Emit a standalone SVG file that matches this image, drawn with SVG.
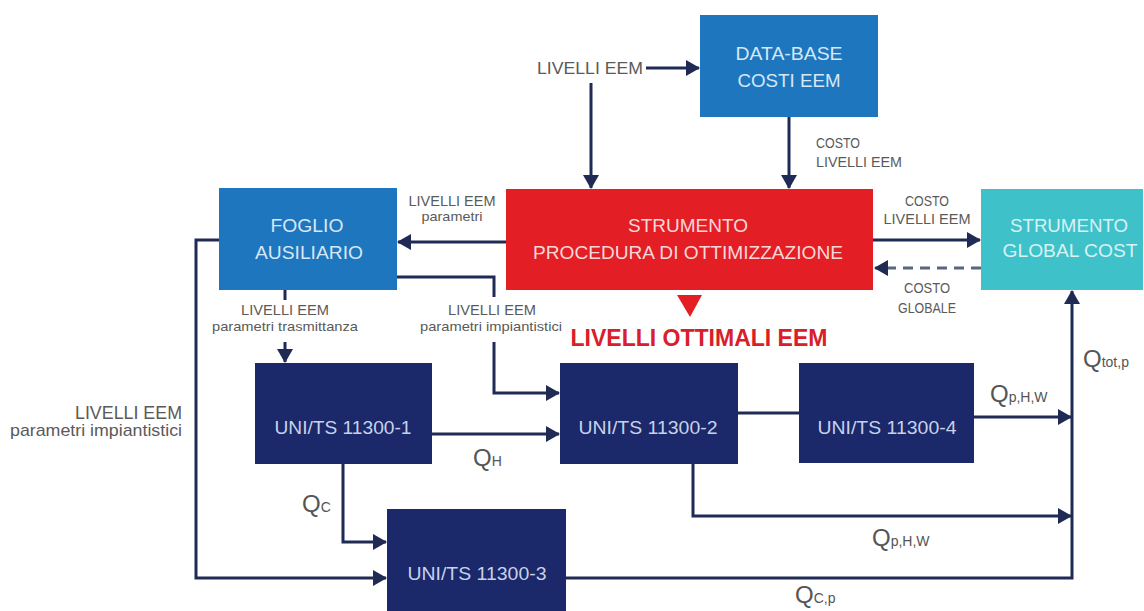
<svg xmlns="http://www.w3.org/2000/svg" width="1144" height="611" viewBox="0 0 1144 611">
<defs>
<style>
.ln{fill:none;stroke:#1f2a55;stroke-width:3}
.dash{fill:none;stroke:#5a6580;stroke-width:3;stroke-dasharray:10 7}
.lbl{font-family:"Liberation Sans",Arial,sans-serif;fill:#5a5a5a;text-anchor:middle}
.btx{font-family:"Liberation Sans",Arial,sans-serif;text-anchor:middle;font-size:19px}
.q{font-family:"Liberation Sans",Arial,sans-serif;fill:#555;font-size:24px}
.qs{font-size:14px}
</style>
<marker id="ah" markerUnits="userSpaceOnUse" viewBox="0 0 14 16" markerWidth="14" markerHeight="16" refX="13" refY="8" orient="auto">
<path d="M0,0 L14,8 L0,16 z" fill="#1f2a55"/>
</marker>
<marker id="ahd" markerUnits="userSpaceOnUse" viewBox="0 0 14 16" markerWidth="14" markerHeight="16" refX="13" refY="8" orient="auto">
<path d="M0,0 L14,8 L0,16 z" fill="#1f2a55"/>
</marker>
</defs>
<rect width="1144" height="611" fill="#ffffff"/>

<g id="connectors">
<path class="ln" d="M646,68 H699" marker-end="url(#ah)"/>
<path class="ln" d="M591,83 V188" marker-end="url(#ah)"/>
<path class="ln" d="M789,117 V188" marker-end="url(#ah)"/>
<path class="ln" d="M506,242 H398" marker-end="url(#ah)"/>
<path class="ln" d="M873,240 H980" marker-end="url(#ah)"/>
<path class="dash" d="M981,268 H875" marker-end="url(#ahd)"/>
<path class="ln" d="M397,277 H494 V297"/>
<path class="ln" d="M494,342 V393 H559" marker-end="url(#ah)"/>
<path class="ln" d="M285,290 V300"/>
<path class="ln" d="M285,342 V362" marker-end="url(#ah)"/>
<path class="ln" d="M219,240 H196 V578 H386" marker-end="url(#ah)"/>
<path class="ln" d="M432,434 H559" marker-end="url(#ah)"/>
<path class="ln" d="M343,464 V542 H386" marker-end="url(#ah)"/>
<path class="ln" d="M738,413 H799"/>
<path class="ln" d="M974,417 H1071" marker-end="url(#ah)"/>
<path class="ln" d="M693,464 V516 H1071" marker-end="url(#ah)"/>
<path class="ln" d="M566,578 H1072 V291" marker-end="url(#ah)"/>
</g>

<g id="labels">
<text class="lbl" x="590" y="74" font-size="17" textLength="106" lengthAdjust="spacingAndGlyphs">LIVELLI EEM</text>
<text class="lbl" x="816" y="148" font-size="14" style="text-anchor:start" textLength="44" lengthAdjust="spacingAndGlyphs">COSTO</text>
<text class="lbl" x="816" y="167" font-size="14" style="text-anchor:start" textLength="86" lengthAdjust="spacingAndGlyphs">LIVELLI EEM</text>
<text class="lbl" x="452" y="206" font-size="14" textLength="87" lengthAdjust="spacingAndGlyphs">LIVELLI EEM</text>
<text class="lbl" x="452" y="221" font-size="13" textLength="61" lengthAdjust="spacingAndGlyphs">parametri</text>
<text class="lbl" x="927" y="206" font-size="14" textLength="44" lengthAdjust="spacingAndGlyphs">COSTO</text>
<text class="lbl" x="927" y="224" font-size="14" textLength="87" lengthAdjust="spacingAndGlyphs">LIVELLI EEM</text>
<text class="lbl" x="927" y="293" font-size="14" textLength="46" lengthAdjust="spacingAndGlyphs">COSTO</text>
<text class="lbl" x="927" y="313" font-size="14" textLength="58" lengthAdjust="spacingAndGlyphs">GLOBALE</text>
<text class="lbl" x="285" y="315" font-size="14" textLength="88" lengthAdjust="spacingAndGlyphs">LIVELLI EEM</text>
<text class="lbl" x="285" y="331" font-size="13" textLength="146" lengthAdjust="spacingAndGlyphs">parametri trasmittanza</text>
<text class="lbl" x="492" y="315" font-size="14" textLength="88" lengthAdjust="spacingAndGlyphs">LIVELLI EEM</text>
<text class="lbl" x="491" y="331" font-size="13" textLength="142" lengthAdjust="spacingAndGlyphs">parametri impiantistici</text>
<text class="lbl" x="182" y="419" font-size="18" style="text-anchor:end" textLength="107" lengthAdjust="spacingAndGlyphs">LIVELLI EEM</text>
<text class="lbl" x="182" y="436" font-size="17" style="text-anchor:end" textLength="172" lengthAdjust="spacingAndGlyphs">parametri impiantistici</text>
<text class="q" x="473" y="466">Q<tspan class="qs">H</tspan></text>
<text class="q" x="302" y="512">Q<tspan class="qs">C</tspan></text>
<text class="q" x="990" y="402">Q<tspan class="qs">p,H,W</tspan></text>
<text class="q" x="872" y="546">Q<tspan class="qs">p,H,W</tspan></text>
<text class="q" x="795" y="603" font-size="22">Q<tspan class="qs">C,p</tspan></text>
<text class="q" x="1083" y="367">Q<tspan class="qs">tot,p</tspan></text>
</g>

<g id="database">
<rect x="700" y="15" width="178" height="102" fill="#1e76bf"/>
<text class="btx" x="789" y="60" fill="#d6e8f4" textLength="107" lengthAdjust="spacingAndGlyphs">DATA-BASE</text>
<text class="btx" x="789" y="87" fill="#d6e8f4" textLength="103" lengthAdjust="spacingAndGlyphs">COSTI EEM</text>
</g>

<g id="ottimizzazione">
<rect x="506" y="189" width="367" height="101" fill="#e31e25"/>
<text class="btx" x="688" y="232" font-size="20" fill="#f8d8d8" textLength="120" lengthAdjust="spacingAndGlyphs">STRUMENTO</text>
<text class="btx" x="688" y="259" font-size="20" fill="#f8d8d8" textLength="310" lengthAdjust="spacingAndGlyphs">PROCEDURA DI OTTIMIZZAZIONE</text>
<path d="M677,295 L702,295 L690,317 z" fill="#e31e25"/>
<text x="699" y="346" font-family="'Liberation Sans',Arial,sans-serif" font-weight="bold" font-size="23" fill="#d9202a" text-anchor="middle" textLength="257" lengthAdjust="spacingAndGlyphs">LIVELLI OTTIMALI EEM</text>
</g>

<g id="foglio">
<rect x="219" y="188" width="178" height="102" fill="#1e76bf"/>
<text class="btx" x="307" y="232" fill="#d6e8f4" textLength="73" lengthAdjust="spacingAndGlyphs">FOGLIO</text>
<text class="btx" x="309" y="259" fill="#d6e8f4" textLength="108" lengthAdjust="spacingAndGlyphs">AUSILIARIO</text>
</g>

<g id="globalcost">
<rect x="981" y="189" width="162" height="101" fill="#3fc1c9"/>
<text class="btx" x="1069" y="232" fill="#d9f2f4" textLength="118" lengthAdjust="spacingAndGlyphs">STRUMENTO</text>
<text class="btx" x="1070" y="257" fill="#d9f2f4" textLength="135" lengthAdjust="spacingAndGlyphs">GLOBAL COST</text>
</g>

<g id="uni1">
<rect x="255" y="363" width="177" height="101" fill="#1b2869"/>
<text class="btx" x="343" y="434" fill="#c8d2ea" textLength="137" lengthAdjust="spacingAndGlyphs">UNI/TS 11300-1</text>
</g>
<g id="uni2">
<rect x="560" y="363" width="178" height="101" fill="#1b2869"/>
<text class="btx" x="648" y="434" fill="#c8d2ea" textLength="139" lengthAdjust="spacingAndGlyphs">UNI/TS 11300-2</text>
</g>
<g id="uni4">
<rect x="799" y="363" width="175" height="100" fill="#1b2869"/>
<text class="btx" x="887" y="434" fill="#c8d2ea" textLength="139" lengthAdjust="spacingAndGlyphs">UNI/TS 11300-4</text>
</g>
<g id="uni3">
<rect x="387" y="509" width="179" height="102" fill="#1b2869"/>
<text class="btx" x="477" y="580" fill="#c8d2ea" textLength="139" lengthAdjust="spacingAndGlyphs">UNI/TS 11300-3</text>
</g>
</svg>
